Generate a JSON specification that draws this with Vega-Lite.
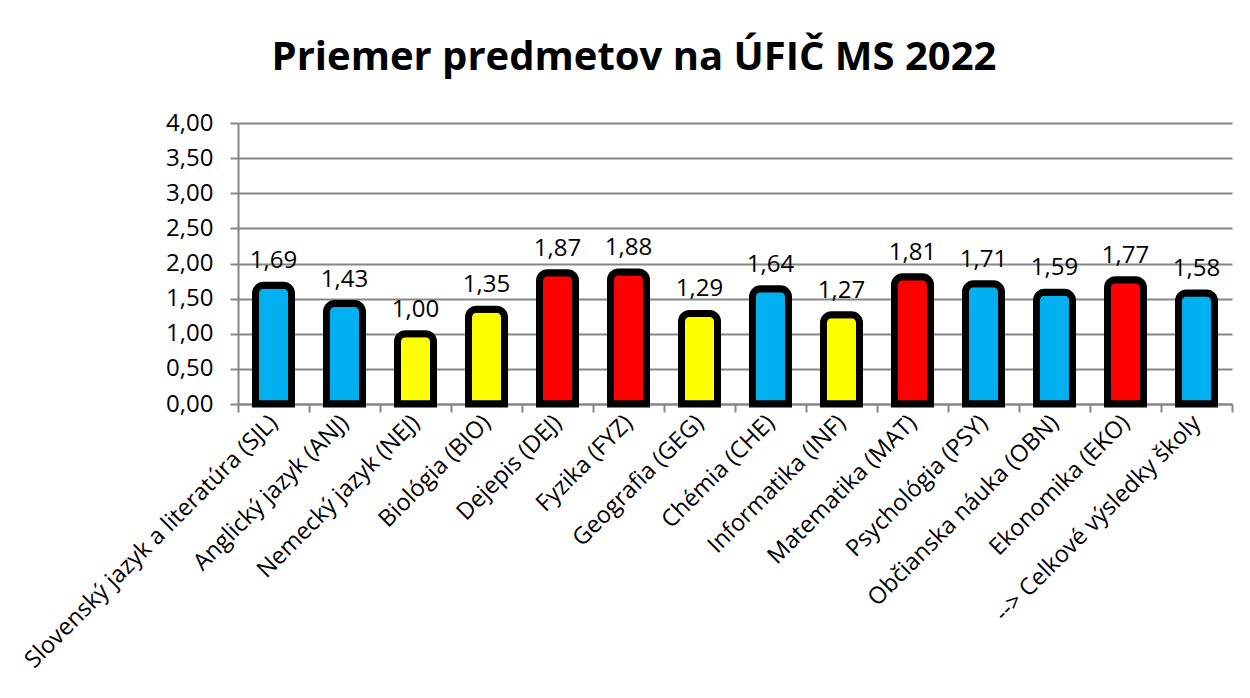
{
  "$schema": "https://vega.github.io/schema/vega-lite/v6.json",
  "width": 994,
  "height": 281,
  "autosize": {"type": "none"},
  "padding": {"left": 238, "top": 123, "right": 18, "bottom": 294},
  "background": "white",
  "title": {
    "text": "Priemer predmetov na ÚFIČ MS 2022",
    "font": "Open Sans",
    "fontSize": 40,
    "fontWeight": "bold",
    "color": "#000000",
    "anchor": "middle",
    "frame": "group",
    "dx": -101,
    "offset": 33
  },
  "data": {
    "values": [
      {"predmet": "Slovenský jazyk a literatúra (SJL)", "priemer": 1.69, "skupina": "modrá"},
      {"predmet": "Anglický jazyk (ANJ)", "priemer": 1.43, "skupina": "modrá"},
      {"predmet": "Nemecký jazyk (NEJ)", "priemer": 1.00, "skupina": "žltá"},
      {"predmet": "Biológia (BIO)", "priemer": 1.35, "skupina": "žltá"},
      {"predmet": "Dejepis (DEJ)", "priemer": 1.87, "skupina": "červená"},
      {"predmet": "Fyzika (FYZ)", "priemer": 1.88, "skupina": "červená"},
      {"predmet": "Geografia (GEG)", "priemer": 1.29, "skupina": "žltá"},
      {"predmet": "Chémia (CHE)", "priemer": 1.64, "skupina": "modrá"},
      {"predmet": "Informatika (INF)", "priemer": 1.27, "skupina": "žltá"},
      {"predmet": "Matematika (MAT)", "priemer": 1.81, "skupina": "červená"},
      {"predmet": "Psychológia (PSY)", "priemer": 1.71, "skupina": "modrá"},
      {"predmet": "Občianska náuka (OBN)", "priemer": 1.59, "skupina": "modrá"},
      {"predmet": "Ekonomika (EKO)", "priemer": 1.77, "skupina": "červená"},
      {"predmet": "--> Celkové výsledky školy", "priemer": 1.58, "skupina": "modrá"}
    ]
  },
  "encoding": {
    "x": {
      "field": "predmet",
      "type": "nominal",
      "sort": null,
      "title": null,
      "scale": {"paddingInner": 0, "paddingOuter": 0},
      "axis": {
        "labelAngle": -45,
        "labelAlign": "right",
        "labelBaseline": "middle",
        "labelFont": "Open Sans",
        "labelFontSize": 23.5,
        "labelColor": "#000000",
        "labelPadding": 7,
        "labelLimit": 500,
        "tickBand": "extent",
        "tickSize": 8,
        "tickColor": "#868686",
        "tickWidth": 2,
        "domainColor": "#868686",
        "domainWidth": 2,
        "grid": false
      }
    },
    "y": {
      "field": "priemer",
      "type": "quantitative",
      "title": null,
      "scale": {"domain": [0, 4], "nice": false},
      "axis": {
        "values": [0, 0.5, 1, 1.5, 2, 2.5, 3, 3.5, 4],
        "format": ".2f",
        "labelFont": "Open Sans",
        "labelFontSize": 24,
        "labelColor": "#000000",
        "labelPadding": 17,
        "tickSize": 8,
        "tickColor": "#868686",
        "tickWidth": 2,
        "domainColor": "#868686",
        "domainWidth": 2,
        "grid": true,
        "gridColor": "#868686",
        "gridWidth": 2
      }
    }
  },
  "layer": [
    {
      "mark": {
        "type": "bar",
        "size": 36,
        "stroke": "#000000",
        "strokeWidth": 7,
        "cornerRadiusTopLeft": 8,
        "cornerRadiusTopRight": 8
      },
      "encoding": {
        "color": {
          "field": "skupina",
          "type": "nominal",
          "scale": {"domain": ["modrá", "žltá", "červená"], "range": ["#00B0F0", "#FFFF00", "#FF0000"]},
          "legend": null
        }
      }
    },
    {
      "mark": {
        "type": "text",
        "baseline": "alphabetic",
        "dy": -17,
        "font": "Open Sans",
        "fontSize": 24,
        "color": "#000000"
      },
      "encoding": {
        "text": {"field": "priemer", "type": "quantitative", "format": ".2f"}
      }
    }
  ],
  "config": {
    "view": {"stroke": null},
    "locale": {
      "number": {"decimal": ",", "thousands": " ", "grouping": [3], "currency": ["", " €"]}
    }
  }
}
